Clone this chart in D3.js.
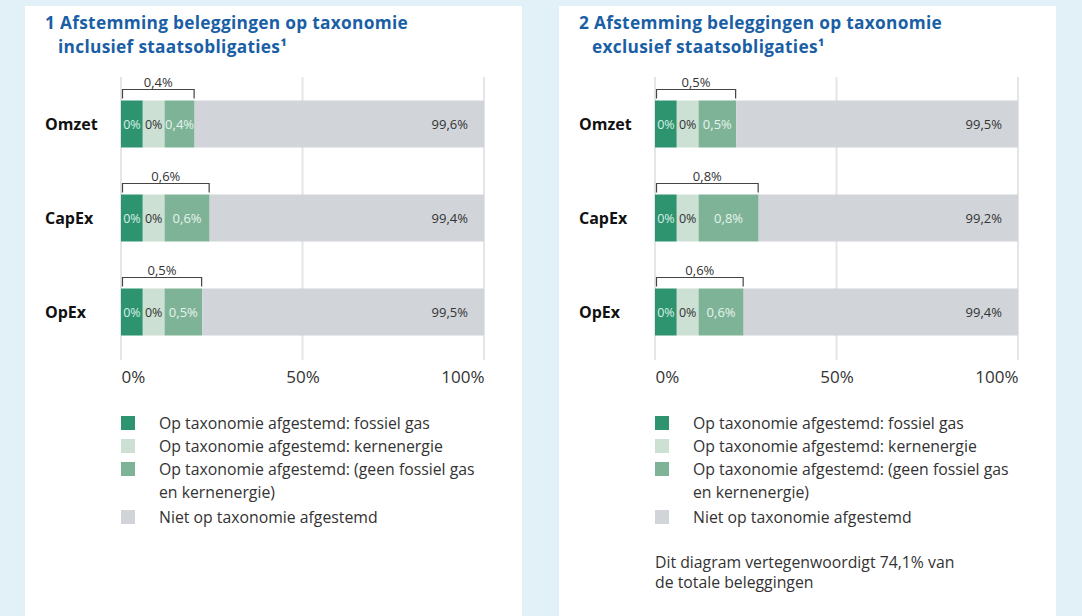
<!DOCTYPE html>
<html><head><meta charset="utf-8">
<script src="https://cdn.jsdelivr.net/npm/d3@7"></script>
<style>
html,body{margin:0;padding:0;background:#e2f1f7;}
svg{display:block;font-family:"Open Sans",sans-serif;}
</style></head>
<body>
<svg id="c" width="1082" height="616"></svg>
<script>
const categories = ["Omzet", "CapEx", "OpEx"];
const panelNumbers = ["1", "2"];
const titleLine1 = ["Afstemming beleggingen op taxonomie", "Afstemming beleggingen op taxonomie"];
const titleLine2 = ["inclusief staatsobligaties¹", "exclusief staatsobligaties¹"];
const fossilGas1 = [0, 0, 0];
const nuclear1 = [0, 0, 0];
const aligned1 = [0.4, 0.6, 0.5];
const notAligned1 = [99.6, 99.4, 99.5];
const fossilGas2 = [0, 0, 0];
const nuclear2 = [0, 0, 0];
const aligned2 = [0.5, 0.8, 0.6];
const notAligned2 = [99.5, 99.2, 99.4];
const axisTicks = [0, 50, 100];
const legendLabels = [
  ["Op taxonomie afgestemd: fossiel gas"],
  ["Op taxonomie afgestemd: kernenergie"],
  ["Op taxonomie afgestemd: (geen fossiel gas", "en kernenergie)"],
  ["Niet op taxonomie afgestemd"]
];
const footnote = ["Dit diagram vertegenwoordigt 74,1% van", "de totale beleggingen"];

const colors = ["#2e9470", "#cde0d4", "#7fb398", "#d1d5d9"];
const labelColors = ["#d6efe3", "#333333", "#e6f3ec", "#333333"];
const fmt = v => String(v).replace(".", ",") + "%";

const svg = d3.select("#c");
const panels = [
  {fossil: fossilGas1, nuclear: nuclear1, aligned: aligned1, not: notAligned1},
  {fossil: fossilGas2, nuclear: nuclear2, aligned: aligned2, not: notAligned2}
];

// small segments are magnified for legibility (as in the original design)
const magnify = d3.scaleLinear().domain([0, 1]).range([0, 20.7]);
const minShown = 6;
const shown = v => Math.max(minShown, magnify(v));

panels.forEach((p, pi) => {
  const ox = pi * 534;
  const g = svg.append("g").attr("transform", `translate(${ox},0)`);
  g.append("rect").attr("x", 25).attr("y", 6).attr("width", 497).attr("height", 620).attr("fill", "#ffffff");

  // title
  g.append("text").attr("fill", "#1a5fa6").attr("font-weight", 700).attr("font-size", 17.3)
    .attr("letter-spacing", 0.3).attr("x", 45).attr("y", 29).text(panelNumbers[pi] + " " + titleLine1[pi]);
  g.append("text").attr("fill", "#1a5fa6").attr("font-weight", 700).attr("font-size", 17.3)
    .attr("letter-spacing", 0.3).attr("x", 58).attr("y", 52.5).text(titleLine2[pi]);

  const x = d3.scaleLinear().domain([0, 100]).range([121, 484]);
  const y = d3.scaleBand().domain(categories).range([77, 359]).paddingInner(0.5).paddingOuter(0.25);

  // grid
  g.selectAll("line.grid").data(axisTicks).enter().append("line")
    .attr("x1", d => x(d)).attr("x2", d => x(d)).attr("y1", 77).attr("y2", 360)
    .attr("stroke", "#e3e5e8").attr("stroke-width", 2);

  // axis
  const ax = g.append("g").attr("transform", "translate(0,368)")
    .call(d3.axisBottom(x).tickValues(axisTicks).tickSize(0).tickFormat(d => d + "%"));
  ax.select(".domain").remove();
  ax.selectAll("text").attr("font-size", 17).attr("fill", "#333").attr("font-family", "Open Sans")
    .attr("text-anchor", (d, i) => i === 0 ? "start" : (i === axisTicks.length - 1 ? "end" : "middle"));

  categories.forEach((c, i) => {
    const vals = [p.fossil[i], p.nuclear[i], p.aligned[i], p.not[i]];
    const widths = [shown(vals[0]), shown(vals[1]), shown(vals[2])];
    const starts = [0, widths[0], widths[0] + widths[1], widths[0] + widths[1] + widths[2]];
    const ends = [starts[1], starts[2], starts[3], 100];
    const segs = vals.map((v, k) => ({v, k, s: starts[k], e: ends[k]}));
    const yy = y(c), h = y.bandwidth();

    g.selectAll(null).data(segs).enter().append("rect")
      .attr("x", d => x(d.s)).attr("y", yy).attr("width", d => x(d.e) - x(d.s)).attr("height", h)
      .attr("fill", d => colors[d.k]);

    g.selectAll(null).data(segs).enter().append("text")
      .attr("x", d => d.k === 3 ? x(d.e) - 16 : (x(d.s) + x(d.e)) / 2)
      .attr("y", yy + h / 2 + 4.8)
      .attr("text-anchor", d => d.k === 3 ? "end" : "middle")
      .attr("font-size", d => d.k < 2 ? 12.5 : 13).attr("fill", d => labelColors[d.k])
      .text(d => fmt(d.v));

    g.append("text").attr("x", 45).attr("y", yy + h / 2 + 5.5)
      .attr("font-size", 16).attr("font-weight", 700).attr("fill", "#111").text(c);

    // bracket over aligned total
    const total = vals[0] + vals[1] + vals[2];
    const bx0 = x(0) + 1.5, bx1 = x(starts[3]) - 0.5, by = yy - 11;
    g.append("path").attr("d", `M${bx0},${yy - 2}V${by}H${bx1}V${yy - 2}`)
      .attr("fill", "none").attr("stroke", "#444").attr("stroke-width", 1.2);
    g.append("text").attr("x", (bx0 + bx1) / 2).attr("y", by - 3).attr("text-anchor", "middle")
      .attr("font-size", 13).attr("fill", "#333").text(fmt(Math.round(total * 10) / 10));
  });

  // legend
  const rowY = [423, 446, 469, 517];
  legendLabels.forEach((lines, k) => {
    g.append("rect").attr("x", 121).attr("y", rowY[k] - 7).attr("width", 14).attr("height", 14).attr("fill", colors[k]);
    const lt = g.append("text").attr("font-size", 15.8).attr("fill", "#333");
    lines.forEach((ln, j) => lt.append("tspan").attr("x", 159).attr("y", rowY[k] + 5.5 + j * 23).text(ln));
  });

  if (pi === 1) {
    const ft = g.append("text").attr("font-size", 15.8).attr("fill", "#333");
    footnote.forEach((ln, j) => ft.append("tspan").attr("x", 121).attr("y", 568 + j * 20).text(ln));
  }
});
</script>
</body></html>
